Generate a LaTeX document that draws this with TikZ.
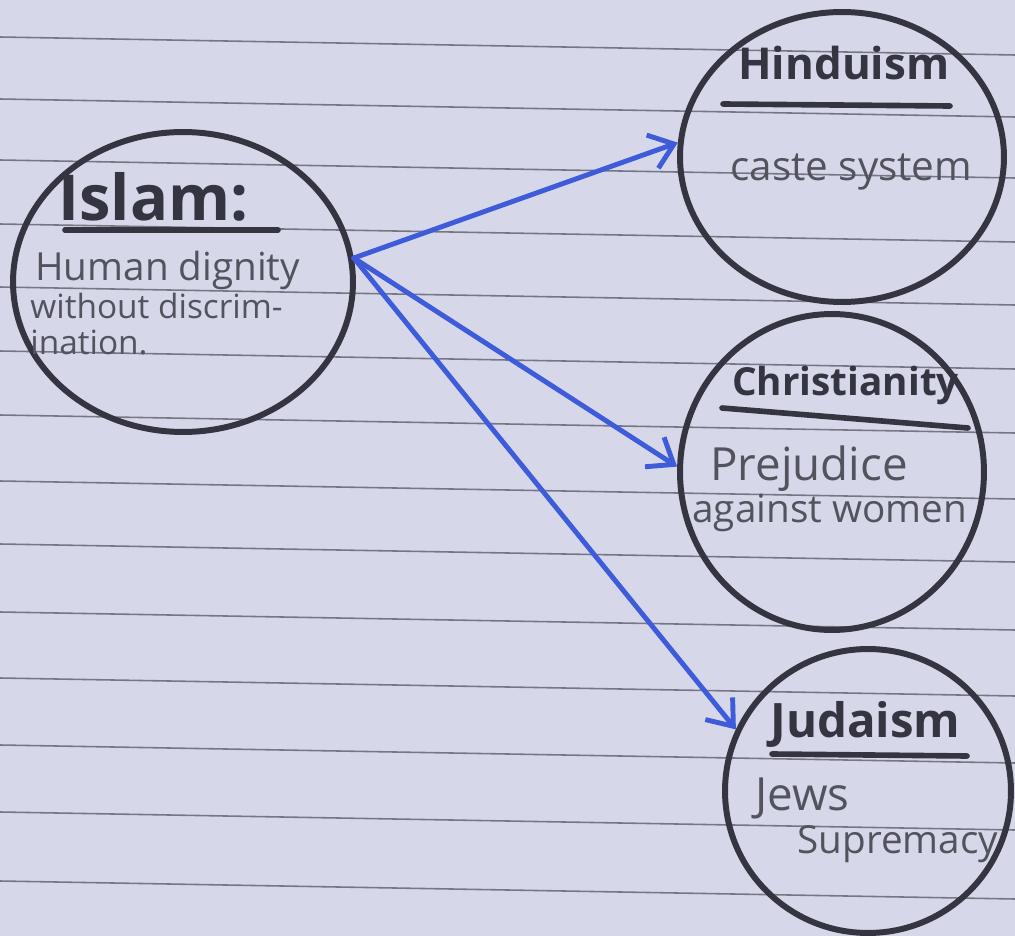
\documentclass[tikz,border=0pt]{standalone}
\usepackage{fontspec}
\setmainfont{Open Sans}
\usetikzlibrary{shapes.geometric,arrows.meta}
\definecolor{paper}{RGB}{214,216,234}
\definecolor{ink}{RGB}{52,53,64}
\definecolor{pen}{RGB}{62,92,218}
\definecolor{rulegray}{RGB}{118,118,132}
\begin{document}
\begin{tikzpicture}[x=0.02cm,y=-0.02cm]
\tikzset{base/.style={draw=ink,line width=3.4pt},
ring/.style={base,ellipse,inner sep=0pt},
ttl/.style={text=ink,inner sep=0pt,anchor=base west,font=\fontsize{#1}{#1}\selectfont\bfseries},
txt/.style={text=ink!85,inner sep=0pt,anchor=base west,font=\fontsize{#1}{#1}\selectfont},
uline/.style={ink,line width=3.2pt,line cap=round},
link/.style={pen,line width=2.8pt,line cap=round,-{Straight Barb[length=13pt,width=20pt,line width=2.8pt]}}}
\fill[paper] (0,0) rectangle (1015,936);
\useasboundingbox (0,0) rectangle (1015,936);
% ruled paper
\foreach \y in {37,99,160,224,287,351,415,481,544,612,678,745,812,881}
  \draw[rulegray,line width=0.9pt] (0,\y) -- (1015,\y+18);
% circles
\node[ring,minimum width=6.8cm,minimum height=6cm] at (183,282) (islam) {};
\node[ring,minimum width=6.48cm,minimum height=5.8cm] at (842,157) (hindu) {};
\node[ring,minimum width=6.08cm,minimum height=6.32cm] at (832,472) (christ) {};
\node[ring,minimum width=5.72cm,minimum height=5.68cm] at (868,791) (judaism) {};
% Islam
\node[ttl=36] at (58,220) (islamT) {Islam:};
\draw[uline] (65,230) -- (278,230);
\node[txt=22] at (35,280) (islamA) {Human dignity};
\node[txt=19] at (30,318) (islamB) {without discrim-};
\node[txt=19] at (30,354) (islamC) {ination.};
% Hinduism
\node[ttl=25] at (738,80) (hinduT) {Hinduism};
\draw[uline] (723,104) -- (950,106);
\node[txt=23] at (730,180) (hinduA) {caste system};
% Christianity
\node[ttl=22] at (732,395) (christT) {Christianity};
\draw[uline] (722,408) -- (968,428);
\node[txt=26] at (710,480) (christA) {Prejudice};
\node[txt=22] at (692,522) (christB) {against women};
% Judaism
\node[ttl=27] at (770,737) (judaismT) {Judaism};
\draw[uline] (772,754) -- (967,756);
\node[txt=26] at (755,810) (judaismA) {Jews};
\node[txt=22] at (797,853) (judaismB) {Supremacy};
% links
\draw[link] (islam.8) -- (hindu.175);
\draw[link] (islam.8) -- (christ.178);
\draw[link] (islam.8) -- (judaism.155);
\end{tikzpicture}
\end{document}
